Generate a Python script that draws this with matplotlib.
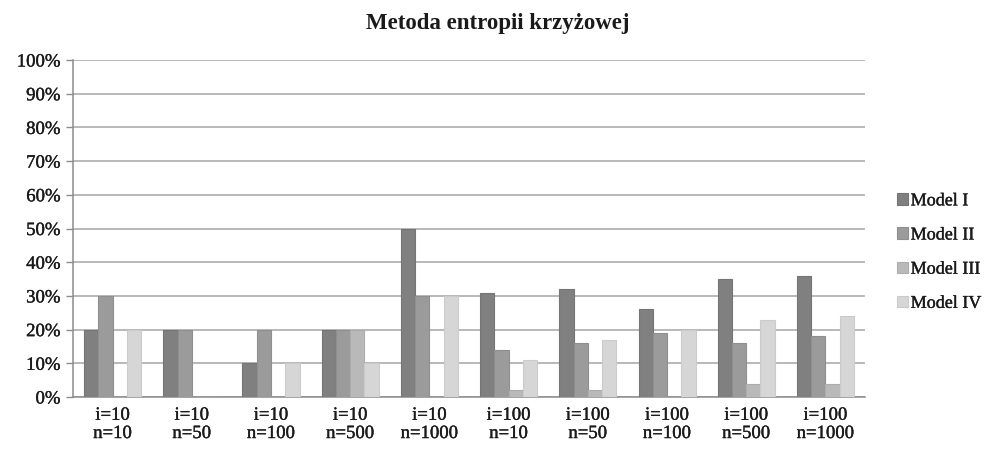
import matplotlib
matplotlib.use("Agg")
import matplotlib.pyplot as plt
import matplotlib.patheffects as pe
import numpy as np
from matplotlib.ticker import PercentFormatter

plt.rcParams["font.family"] = ["Liberation Serif", "DejaVu Serif"]

categories = ["i=10\nn=10", "i=10\nn=50", "i=10\nn=100", "i=10\nn=500", "i=10\nn=1000",
              "i=100\nn=10", "i=100\nn=50", "i=100\nn=100", "i=100\nn=500", "i=100\nn=1000"]
model_1 = [20, 20, 10, 20, 50, 31, 32, 26, 35, 36]
model_2 = [30, 20, 20, 20, 30, 14, 16, 19, 16, 18]
model_3 = [0, 0, 0, 20, 0, 2, 2, 0, 4, 4]
model_4 = [20, 0, 10, 10, 30, 11, 17, 20, 23, 24]
series_names = ["Model I", "Model II", "Model III", "Model IV"]
colors = ["#808080", "#9b9b9b", "#b9b9b9", "#d6d6d6"]
edges = ["#757575", "#8f8f8f", "#adadad", "#cbcbcb"]

# slightly heavier strokes on the text
heavy = [pe.withStroke(linewidth=0.25, foreground="#1a1a1a")]

fig = plt.figure(figsize=(9.96, 4.53), dpi=100)
ax = fig.add_axes([0.0733, 0.1236, 0.7952, 0.7439])

x = np.arange(len(categories))
width = 0.18
for k, vals in enumerate([model_1, model_2, model_3, model_4]):
    ax.bar(x + (k - 1.5) * width, vals, width, color=colors[k], edgecolor=edges[k],
           linewidth=0.8, label=series_names[k], zorder=3)

ax.set_xlim(-0.5, len(categories) - 0.5)
ax.set_ylim(0, 100)
ax.set_yticks(np.arange(0, 101, 10))
ax.yaxis.set_major_formatter(PercentFormatter(decimals=0))
ax.set_xticks(x)
ax.set_xticklabels(categories, fontsize=13.5, linespacing=1.1)
ax.tick_params(axis="y", labelsize=13.5, length=5, color="#8c8c8c", width=1, pad=4)
ax.tick_params(axis="x", length=0, pad=7)
for lbl in ax.get_xticklabels() + ax.get_yticklabels():
    lbl.set_color("#1a1a1a")
    lbl.set_path_effects(heavy)
ax.grid(axis="y", color="#a6a6a6", linewidth=1.1, zorder=0)

for side in ["top", "right"]:
    ax.spines[side].set_visible(False)
for side in ["left", "bottom"]:
    ax.spines[side].set_color("#8c8c8c")
    ax.spines[side].set_linewidth(1.1)

fig.suptitle("Metoda entropii krzyżowej", fontsize=16.5, fontweight="bold", x=0.5, y=0.972,
             color="#1a1a1a")

leg = ax.legend(loc="center left", bbox_to_anchor=(1.02, 0.43), frameon=False, fontsize=13,
                handlelength=0.6, handleheight=0.6, handletextpad=0.15, labelspacing=0.95)
for t in leg.get_texts():
    t.set_color("#1a1a1a")
    t.set_path_effects(heavy)

fig.savefig("out.png", dpi=100)
